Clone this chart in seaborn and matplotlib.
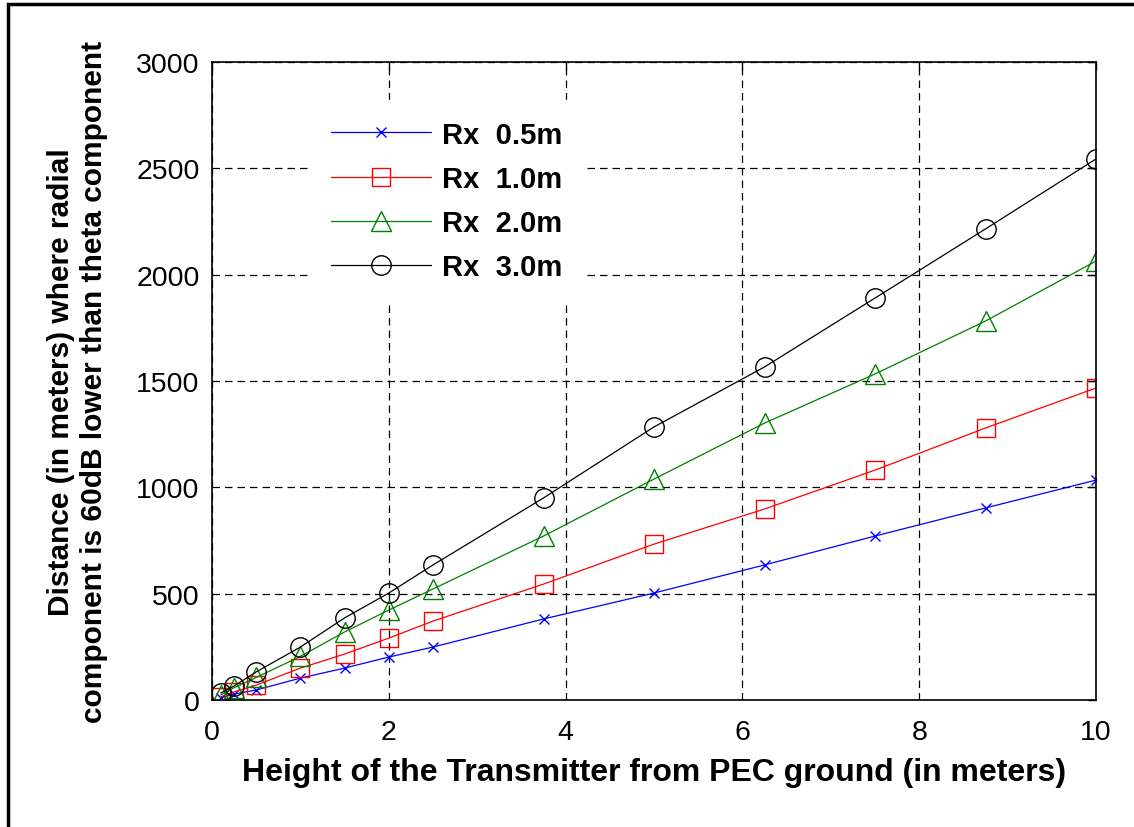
import matplotlib
matplotlib.use("Agg")
import matplotlib.pyplot as plt
from matplotlib.patches import Rectangle
import seaborn as sns
import numpy as np

# Transmitter heights (m)
heights = [0.1, 0.25, 0.5, 1.0, 1.5, 2.0, 2.5, 3.75, 5.0, 6.25, 7.5, 8.75, 10.0]

# Distance where radial component is 60 dB below theta component, per receiver height
rx_05 = [10, 28, 47, 103, 150, 202, 249, 381, 503, 635, 771, 903, 1034]
rx_10 = [15, 38, 70, 150, 216, 291, 371, 545, 733, 898, 1081, 1279, 1467]
rx_20 = [24, 58, 106, 205, 320, 423, 522, 771, 1039, 1302, 1533, 1782, 2064]
rx_30 = [33, 66, 132, 249, 386, 503, 635, 950, 1284, 1566, 1890, 2215, 2544]

labels = ["Rx  0.5m", "Rx  1.0m", "Rx  2.0m", "Rx  3.0m"]
colors = ["#0000ff", "#ff0000", "#008000", "#000000"]
markers = ["x", "s", "^", "o"]
msizes = [7, 13, 15, 14]

sns.set_style("white")
plt.rcParams["font.family"] = ["Liberation Sans", "DejaVu Sans"]
plt.rcParams["text.color"] = "black"
plt.rcParams["axes.labelcolor"] = "black"

fig = plt.figure(figsize=(11.34, 8.28), dpi=100)
ax = fig.add_axes([212 / 1134, 1 - 701 / 828, (1096 - 212) / 1134, (701 - 63) / 828])

for ys, lab, c, m, ms in zip([rx_05, rx_10, rx_20, rx_30], labels, colors, markers, msizes):
    sns.lineplot(x=heights, y=ys, ax=ax, color=c, marker=m, mec=c, mfc="none",
                 ms=ms, mew=1.0, linewidth=0.9, label=lab, legend=False)

ax.set_xlim(0, 10)
ax.set_ylim(0, 3000)
ax.set_xticks(np.arange(0, 11, 2))
ax.set_yticks(np.arange(0, 3001, 500))
ax.grid(True, color="black", linestyle=(0, (6, 4)), linewidth=0.9)
for s in ax.spines.values():
    s.set_visible(True)
    s.set_color("black")
    s.set_linewidth(1.2)
ax.tick_params(direction="in", length=6, width=1, labelsize=20.5, top=True, right=True,
               pad=9, colors="black")
ax.tick_params(axis="x", pad=14)

ax.set_xlabel("Height of the Transmitter from PEC ground (in meters)",
              fontsize=23, fontweight="bold", labelpad=8)
ax.set_ylabel("Distance (in meters) where radial\ncomponent is 60dB lower than theta component",
              fontsize=21.5, fontweight="bold", labelpad=20, linespacing=1.25)

handles = ax.get_lines()[:4]
leg = ax.legend(handles, labels, loc="upper left", bbox_to_anchor=(0.112, 0.94),
                borderaxespad=0, borderpad=0.7, frameon=True, fancybox=False,
                facecolor="white", edgecolor="white", framealpha=1,
                prop={"size": 21, "weight": "bold"},
                handlelength=3.4, handletextpad=0.38, labelspacing=0.55)

# Figure border on the left and top
fig.patches.append(Rectangle((7.5 / 1134, -0.1), 1.2, 1 - 4.5 / 828 + 0.1,
                             transform=fig.transFigure, fill=False,
                             edgecolor="black", linewidth=2.5, zorder=10))

fig.savefig("out.png", dpi=100, facecolor="white")
